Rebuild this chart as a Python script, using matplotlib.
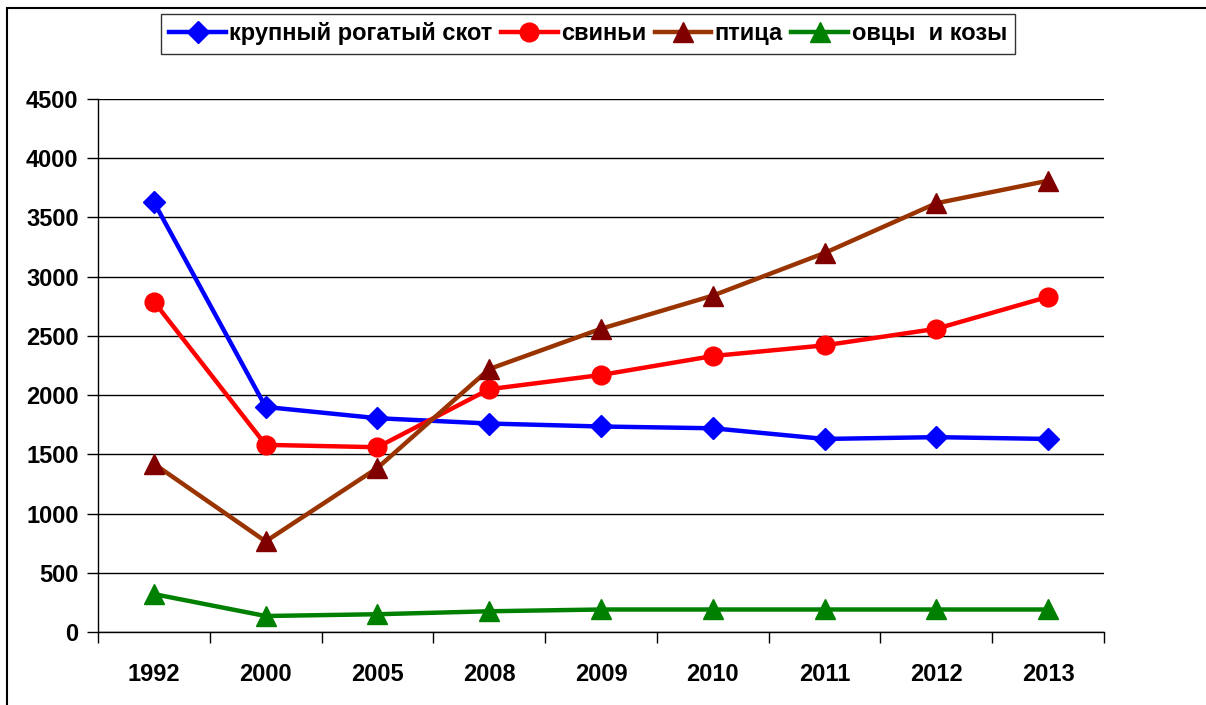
import matplotlib.pyplot as plt
from matplotlib.patches import Rectangle

# Data
years = ['1992', '2000', '2005', '2008', '2009', '2010', '2011', '2012', '2013']
cattle = [3630, 1900, 1805, 1760, 1735, 1720, 1630, 1645, 1630]
pigs = [2790, 1580, 1560, 2050, 2170, 2330, 2420, 2560, 2830]
poultry = [1420, 765, 1385, 2220, 2560, 2840, 3200, 3620, 3810]
sheep_goats = [320, 135, 150, 175, 190, 190, 190, 190, 190]

y_ticks = [0, 500, 1000, 1500, 2000, 2500, 3000, 3500, 4000, 4500]

plt.rcParams['font.family'] = ['Liberation Sans', 'DejaVu Sans']

fig = plt.figure(figsize=(12.06, 7.05), dpi=100)
ax = fig.add_axes([98 / 1206, 1 - 632 / 705, (1104 - 98) / 1206, (632 - 99) / 705])

x = list(range(len(years)))
ax.plot(x, cattle, color='#0000FF', lw=3.2, marker='D', ms=11,
        label='крупный рогатый скот', zorder=4)
ax.plot(x, pigs, color='#FF0000', lw=3.2, marker='o', ms=13.5,
        label='свиньи', zorder=4)
ax.plot(x, poultry, color='#993300', lw=3.2, marker='^', ms=15,
        mfc='#800000', mec='#800000', label='птица', zorder=4)
ax.plot(x, sheep_goats, color='#008000', lw=3.2, marker='^', ms=15,
        label='овцы  и козы', zorder=4)

ax.set_xlim(-0.5, len(years) - 0.5)
ax.set_ylim(0, 4500)
ax.set_yticks(y_ticks)
ax.yaxis.grid(True, color='black', lw=1.0)
ax.set_axisbelow(True)

# category labels between boundary ticks
ax.set_xticks(x)
ax.set_xticklabels(years)
ax.tick_params(axis='x', which='major', length=0, pad=22)
ax.set_xticks([i - 0.5 for i in range(len(years) + 1)], minor=True)
ax.tick_params(axis='x', which='minor', length=8, width=1.0, direction='out')
ax.tick_params(axis='y', length=8, width=1.0, direction='out', pad=6)

for lbl in ax.get_xticklabels() + ax.get_yticklabels():
    lbl.set_fontsize(17)
    lbl.set_fontweight('bold')

for side in ['top', 'right']:
    ax.spines[side].set_visible(False)
ax.spines['left'].set_linewidth(1.0)
ax.spines['bottom'].set_linewidth(1.0)

leg = ax.legend(loc='upper center', bbox_to_anchor=(588 / 1206, 1 - 14 / 705),
                bbox_transform=fig.transFigure, ncol=4, frameon=True,
                fancybox=False, edgecolor='black', handlelength=2.4,
                handletextpad=0.15, columnspacing=0.35, borderpad=0.35,
                borderaxespad=0, prop={'size': 17, 'weight': 'bold'})
leg.get_frame().set_linewidth(1.0)

# outer chart-area border (only left and top edges are visible)
fig.patches.append(Rectangle((7 / 1206, -0.1), 1.2, 1.1 - 8 / 705,
                             transform=fig.transFigure, fill=False,
                             edgecolor='black', lw=1.5))

fig.savefig('out.png', dpi=100)
